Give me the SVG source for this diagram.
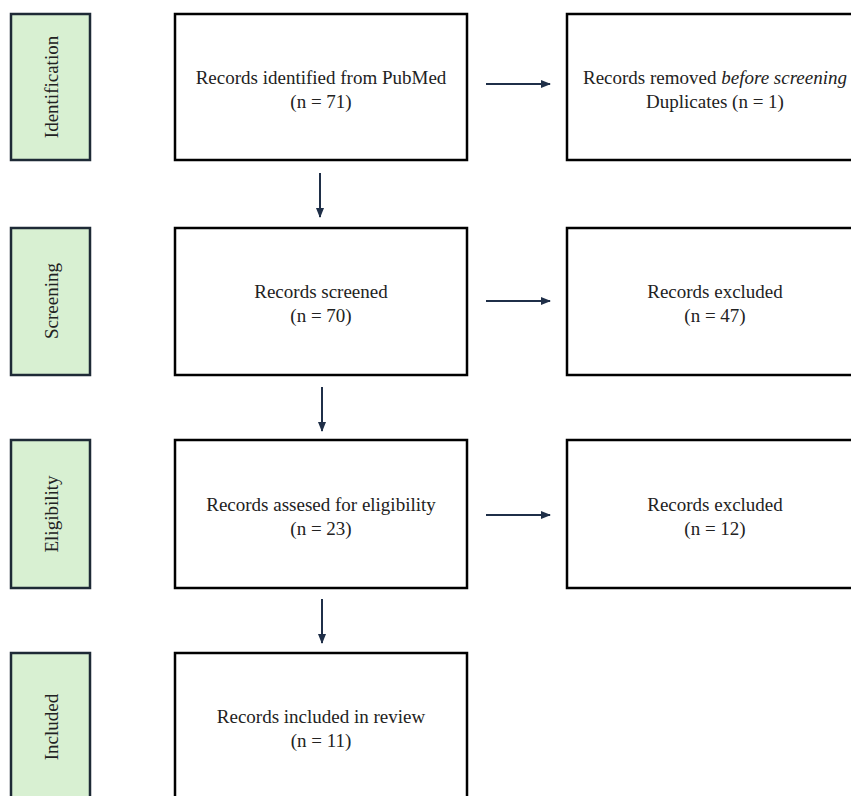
<svg xmlns="http://www.w3.org/2000/svg" width="851" height="796" viewBox="0 0 851 796">
<defs>
<style>
.stage{fill:#d8f0d2;stroke:#1e2a36;stroke-width:2.5}
.box{fill:#fff;stroke:#000;stroke-width:2.5}
.t{font-family:"Liberation Serif","Times New Roman",serif;font-size:19px;fill:#222;text-anchor:middle}
.conn{stroke:#1f2f48;stroke-width:2;fill:none}
</style>
<marker id="ah" markerWidth="10" markerHeight="10" refX="9" refY="5" orient="auto" markerUnits="userSpaceOnUse">
<path d="M0,1 L10,5 L0,9 Z" fill="#1f2f48"/>
</marker>
</defs>
<rect width="851" height="796" fill="#fff"/>
<g id="stage-identification"><rect class="stage" x="11" y="14" width="79" height="146"/><text class="t" transform="translate(58,87) rotate(-90)">Identification</text></g>
<g id="stage-screening"><rect class="stage" x="11" y="228" width="79" height="147"/><text class="t" transform="translate(58,301) rotate(-90)">Screening</text></g>
<g id="stage-eligibility"><rect class="stage" x="11" y="440" width="79" height="148"/><text class="t" transform="translate(58,514) rotate(-90)">Eligibility</text></g>
<g id="stage-included"><rect class="stage" x="11" y="653" width="79" height="160"/><text class="t" transform="translate(58,727) rotate(-90)">Included</text></g>
<g id="identified"><rect class="box" x="175" y="14" width="292" height="146"/><text class="t" x="321" y="84">Records identified from PubMed</text><text class="t" x="321" y="108">(n = 71)</text></g>
<g id="removed"><rect class="box" x="567" y="14" width="294" height="146"/><text class="t" x="715" y="84">Records removed <tspan font-style="italic">before screening</tspan></text><text class="t" x="715" y="108">Duplicates (n = 1)</text></g>
<g id="screened"><rect class="box" x="175" y="228" width="292" height="147"/><text class="t" x="321" y="298">Records screened</text><text class="t" x="321" y="322">(n = 70)</text></g>
<g id="excluded1"><rect class="box" x="567" y="228" width="294" height="147"/><text class="t" x="715" y="298">Records excluded</text><text class="t" x="715" y="322">(n = 47)</text></g>
<g id="eligible"><rect class="box" x="175" y="440" width="292" height="148"/><text class="t" x="321" y="511">Records assesed for eligibility</text><text class="t" x="321" y="535">(n = 23)</text></g>
<g id="excluded2"><rect class="box" x="567" y="440" width="294" height="148"/><text class="t" x="715" y="511">Records excluded</text><text class="t" x="715" y="535">(n = 12)</text></g>
<g id="included"><rect class="box" x="175" y="653" width="292" height="160"/><text class="t" x="321" y="723">Records included in review</text><text class="t" x="321" y="747">(n = 11)</text></g>
<g id="connectors">
<line class="conn" x1="486" y1="84" x2="550" y2="84" marker-end="url(#ah)"/>
<line class="conn" x1="486" y1="301" x2="550" y2="301" marker-end="url(#ah)"/>
<line class="conn" x1="486" y1="515" x2="550" y2="515" marker-end="url(#ah)"/>
<line class="conn" x1="320" y1="173" x2="320" y2="217" marker-end="url(#ah)"/>
<line class="conn" x1="322" y1="387" x2="322" y2="431" marker-end="url(#ah)"/>
<line class="conn" x1="322" y1="599" x2="322" y2="643" marker-end="url(#ah)"/>
</g>
</svg>
